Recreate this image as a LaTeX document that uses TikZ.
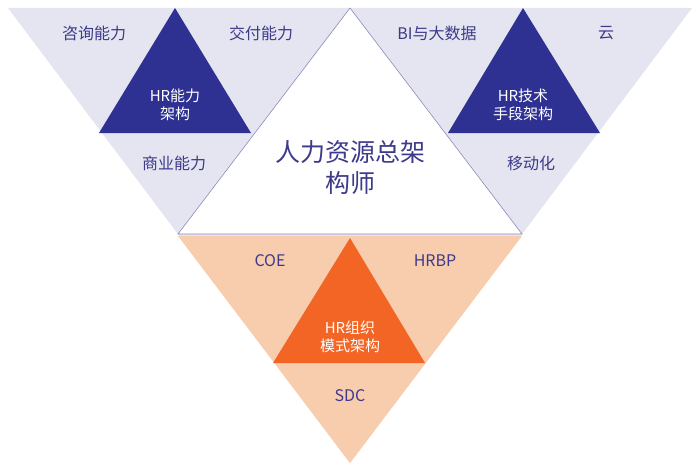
\documentclass[tikz,border=0pt]{standalone}
\usepackage{fontspec}
\newfontfamily\cjk{Noto Sans CJK SC}
\definecolor{lav}{HTML}{E4E5F0}
\definecolor{navy}{HTML}{2E3192}
\definecolor{txt}{HTML}{3D3A8A}
\definecolor{peach}{HTML}{F8CDAE}
\definecolor{org}{HTML}{F26524}
\tikzset{lbl/.style={text=txt,font=\cjk\fontsize{16}{19}\selectfont,align=center},
 inl/.style={text=white,font=\cjk\fontsize{15}{18}\selectfont,align=center}}
\begin{document}
\begin{tikzpicture}[x=1pt,y=-1pt]
\useasboundingbox (0,0) rectangle (700,468);
\fill[lav] (8,8) -- (692,8) -- (350,463) -- cycle;
\fill[peach] (178,236) -- (522,236) -- (350,463) -- cycle;
\fill[white,draw=txt!60,line width=0.6pt] (350,8) -- (522,234) -- (178,234) -- cycle;
\fill[navy] (175,8) -- (251,133) -- (99,133) -- cycle;
\fill[navy] (523,8) -- (600,133) -- (448,133) -- cycle;
\fill[org] (350,238) -- (425,363) -- (273,363) -- cycle;
\node[lbl] (a) at (94,33) {咨询能力};
\node[lbl] (b) at (261,33) {交付能力};
\node[lbl] (c) at (437,33) {BI与大数据};
\node[lbl] (d) at (606,33) {云};
\node[inl] (e) at (175,105) {HR能力\\架构};
\node[inl] (f) at (523,105) {HR技术\\手段架构};
\node[lbl] (g) at (174,163) {商业能力};
\node[lbl] (h) at (531,163) {移动化};
\node[text=txt,font=\cjk\fontsize{25}{31}\selectfont,align=center] (i) at (350,168) {人力资源总架\\构师};
\node[lbl] (j) at (270,261) {COE};
\node[lbl] (k) at (435,261) {HRBP};
\node[inl] (l) at (350,337) {HR组织\\模式架构};
\node[lbl] (m) at (350,396) {SDC};
\end{tikzpicture}
\end{document}
